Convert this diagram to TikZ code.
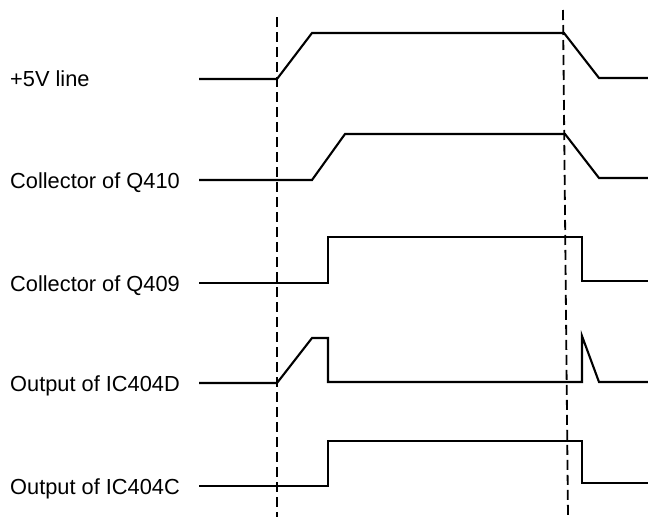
\documentclass[tikz,border=0pt]{standalone}
\usepackage{fontspec}
\setmainfont{Liberation Sans}
\begin{document}
\begin{tikzpicture}[x=1pt,y=-1pt,
  lbl/.style={anchor=base west,inner sep=0pt,font=\fontsize{21.8}{25}\selectfont},
  trace/.style={line width=2.1pt,line join=miter},
  marker/.style={line width=1.8pt,dash pattern=on 10pt off 5pt}]
\useasboundingbox (0,0) rectangle (648,517);
% labels
\node[lbl] (l1) at (10,86) {+5V line};
\node[lbl] (l2) at (10,188) {Collector of Q410};
\node[lbl] (l3) at (10,291) {Collector of Q409};
\node[lbl] (l4) at (10,391) {Output of IC404D};
\node[lbl] (l5) at (10,494) {Output of IC404C};
% dashed markers
\coordinate (d1t) at (277,17);
\coordinate (d1b) at (277,517);
\coordinate (d2t) at (563,10);
\coordinate (d2b) at (568,517);
\draw[marker] (d1t) -- (d1b);
\draw[marker] (d2t) -- (d2b);
% traces
\draw[trace] (199,79) -- (277,79) -- (312,33) -- (564,33) -- (599,78) -- (648,78);
\draw[trace] (199,180) -- (312,180) -- (345,134) -- (565,134) -- (599,178) -- (648,178);
\draw[trace] (199,283) -- (328,283) -- (328,237) -- (582,237) -- (582,281) -- (648,281);
\draw[trace] (199,383) -- (277,383) -- (312,338) -- (328,338) -- (328,382) -- (582,382) -- (582,336) -- (599,382) -- (648,382);
\draw[trace] (199,486) -- (328,486) -- (328,441) -- (582,441) -- (582,483) -- (648,483);
\end{tikzpicture}
\end{document}
